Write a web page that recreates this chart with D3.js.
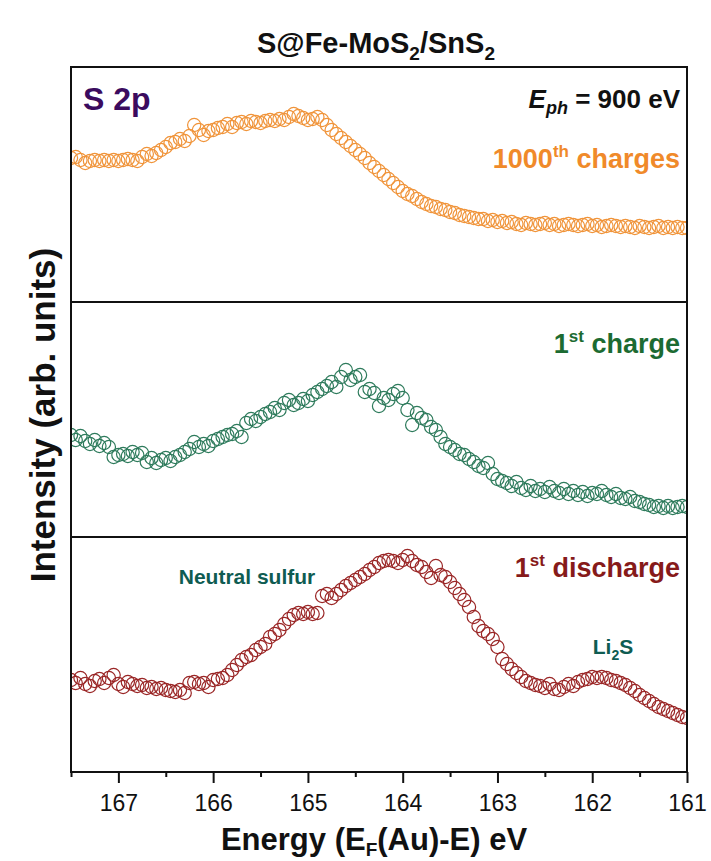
<!DOCTYPE html>
<html>
<head>
<meta charset="utf-8">
<script src="https://cdn.jsdelivr.net/npm/d3@7"></script>
<style>
  html, body { margin: 0; padding: 0; background: #ffffff; }
  svg { display: block; font-family: "Liberation Sans", Arial, sans-serif; }
</style>
</head>
<body>
<svg id="chart" width="711" height="861"></svg>
<script>
// ---------------- DATA ----------------
const energies = [
167.50,167.45,167.40,167.35,167.30,167.25,167.20,167.15,167.10,167.05,
167.00,166.95,166.90,166.85,166.80,166.75,166.70,166.65,166.60,166.55,
166.50,166.45,166.40,166.35,166.30,166.25,166.20,166.15,166.10,166.05,
166.00,165.95,165.90,165.85,165.80,165.75,165.70,165.65,165.60,165.55,
165.50,165.45,165.40,165.35,165.30,165.25,165.20,165.15,165.10,165.05,
165.00,164.95,164.90,164.85,164.80,164.75,164.70,164.65,164.60,164.55,
164.50,164.45,164.40,164.35,164.30,164.25,164.20,164.15,164.10,164.05,
164.00,163.95,163.90,163.85,163.80,163.75,163.70,163.65,163.60,163.55,
163.50,163.45,163.40,163.35,163.30,163.25,163.20,163.15,163.10,163.05,
163.00,162.95,162.90,162.85,162.80,162.75,162.70,162.65,162.60,162.55,
162.50,162.45,162.40,162.35,162.30,162.25,162.20,162.15,162.10,162.05,
162.00,161.95,161.90,161.85,161.80,161.75,161.70,161.65,161.60,161.55,
161.50,161.45,161.40,161.35,161.30,161.25,161.20,161.15,161.10,161.05,
161.00];

// 1000th charges (orange)
const charge1000 = [
144,145,142,139,141,142,141,142,141,142,
141,142,143,142,141,145,148,146,149,152,
155,159,160,163,161,166,177,172,167,171,
172,174,175,178,175,179,180,178,181,180,
179,181,182,181,183,182,185,188,186,184,
182,183,185,182,177,172,168,164,160,156,
152,148,144,139,135,131,127,123,119,115,
111,108,106,103,100,98,96,95,93,92,
90,89,87,86,85,84,83,83,81,82,
80,81,79,80,78,77,79,78,77,78,
79,77,78,76,77,78,77,76,77,78,
76,77,75,76,77,76,75,76,75,74,
76,75,74,75,76,74,75,74,75,74,
74];

// 1st charge (green)
const charge1st = [
102,97,101,96,93,97,91,94,90,80,
82,83,81,85,82,84,75,79,74,77,
79,76,80,82,85,88,95,90,93,91,
96,98,100,102,103,106,100,114,118,116,
120,123,125,129,127,134,137,132,134,138,
136,142,145,148,151,155,150,160,167,157,
160,162,145,148,144,131,139,137,143,146,
139,127,112,124,119,117,110,107,100,93,
90,87,83,82,78,75,71,69,74,63,
58,56,54,51,55,49,47,51,46,48,
45,50,46,44,48,43,46,42,45,41,
44,43,46,42,40,43,39,38,40,36,
35,33,32,30,31,29,31,29,30,31,
30];

// 1st discharge (dark red)
const discharge1st = [
92,89,94,88,86,91,93,89,94,97,
88,85,90,88,86,87,84,85,83,84,
82,81,80,82,79,89,90,88,89,85,
92,93,94,97,102,107,112,115,117,122,
125,128,135,138,142,148,153,157,159,158,
160,158,159,176,178,174,178,182,186,189,
192,195,198,202,205,209,211,212,211,209,
212,216,211,207,205,200,194,206,197,195,
190,184,178,172,165,155,146,141,138,133,
125,113,108,103,99,95,91,89,87,86,
84,88,83,82,85,88,86,90,92,93,
95,94,95,94,92,91,89,87,84,81,
77,74,71,68,65,63,61,59,57,55,
54];

const xTickValues = [167, 166, 165, 164, 163, 162, 161];
const xMinorTickValues = [167.5, 166.5, 165.5, 164.5, 163.5, 162.5, 161.5];
const xDomain = [167.5, 161];
const yDomain = [0, 235];

// ---------------- LAYOUT ----------------
const svg = d3.select("#chart");
const W = 711, H = 861;
const left = 71, right = 687;
const panelTops = [67, 302, 537];
const panelH = 235;
const bottom = panelTops[2] + panelH;

svg.append("rect").attr("width", W).attr("height", H).attr("fill", "#ffffff");

const x = d3.scaleLinear().domain(xDomain).range([left, right]);

const panels = [
  { data: charge1000, color: "#f0943a" },
  { data: charge1st, color: "#2e7b5c" },
  { data: discharge1st, color: "#9a2626" }
];

const defs = svg.append("defs");
defs.append("clipPath").attr("id", "clipAll")
  .append("rect").attr("x", left).attr("y", panelTops[0])
  .attr("width", right - left).attr("height", bottom - panelTops[0]);

panels.forEach((p, k) => {
  const top = panelTops[k];
  const y = d3.scaleLinear().domain(yDomain).range([top + panelH, top]);
  const g = svg.append("g").attr("clip-path", "url(#clipAll)");
  g.selectAll("circle")
    .data(energies.map((e, i) => [e, p.data[i]]))
    .join("circle")
    .attr("cx", d => x(d[0]))
    .attr("cy", d => y(d[1]))
    .attr("r", 6.6)
    .attr("fill", "none")
    .attr("stroke", p.color)
    .attr("stroke-width", 1.2);
});

// frame & separators
svg.append("rect")
  .attr("x", left).attr("y", panelTops[0])
  .attr("width", right - left).attr("height", bottom - panelTops[0])
  .attr("fill", "none").attr("stroke", "#111").attr("stroke-width", 2);
[panelTops[1], panelTops[2]].forEach(yy => {
  svg.append("line").attr("x1", left).attr("x2", right)
    .attr("y1", yy).attr("y2", yy)
    .attr("stroke", "#111").attr("stroke-width", 2);
});

// x axis
const xAxis = d3.axisBottom(x).tickValues(xTickValues).tickSize(11).tickPadding(12)
  .tickFormat(d3.format("d"));
const gx = svg.append("g").attr("transform", `translate(0,${bottom})`).call(xAxis);
gx.select(".domain").remove();
gx.selectAll(".tick line").attr("stroke", "#111").attr("stroke-width", 2);
gx.selectAll(".tick text").attr("font-size", 23).attr("fill", "#111")
  .attr("font-family", "'Liberation Sans', Arial, sans-serif");
const xMinor = d3.axisBottom(x).tickValues(xMinorTickValues).tickSize(5).tickFormat("");
const gxm = svg.append("g").attr("transform", `translate(0,${bottom})`).call(xMinor);
gxm.select(".domain").remove();
gxm.selectAll(".tick line").attr("stroke", "#111").attr("stroke-width", 2);

// title
const title = svg.append("text").attr("x", 376).attr("y", 53)
  .attr("text-anchor", "middle").attr("font-size", 29).attr("font-weight", "bold").attr("fill", "#111");
title.append("tspan").text("S@Fe-MoS");
title.append("tspan").attr("font-size", 19).attr("dy", 7).text("2");
title.append("tspan").attr("dy", -7).text("/SnS");
title.append("tspan").attr("font-size", 19).attr("dy", 7).text("2");

// S 2p
svg.append("text").attr("x", 83).attr("y", 110)
  .attr("font-size", 32).attr("font-weight", "bold").attr("fill", "#3b0b5e").text("S 2p");

// E_ph = 900 eV
const eph = svg.append("text").attr("x", 680).attr("y", 108)
  .attr("text-anchor", "end").attr("font-size", 26).attr("font-weight", "bold").attr("fill", "#111");
eph.append("tspan").attr("font-style", "italic").text("E");
eph.append("tspan").attr("font-style", "italic").attr("font-size", 18).attr("dy", 6).text("ph");
eph.append("tspan").attr("dy", -6).text(" = 900 eV");

// series labels
function supLabel(txt1, sup, txt2, xx, yy, color) {
  const t = svg.append("text").attr("x", xx).attr("y", yy)
    .attr("text-anchor", "end").attr("font-size", 27).attr("font-weight", "bold").attr("fill", color);
  t.append("tspan").text(txt1);
  t.append("tspan").attr("font-size", 17).attr("dy", -11).text(sup);
  t.append("tspan").attr("dy", 11).text(txt2);
}
supLabel("1000", "th", " charges", 680, 168, "#f08a2a");
supLabel("1", "st", " charge", 680, 353, "#1c6b32");
supLabel("1", "st", " discharge", 680, 577, "#861a1a");

// annotations
svg.append("text").attr("x", 247).attr("y", 584).attr("text-anchor", "middle")
  .attr("font-size", 21).attr("font-weight", "bold").attr("fill", "#0f5c52").text("Neutral sulfur");
const li = svg.append("text").attr("x", 613).attr("y", 654).attr("text-anchor", "middle")
  .attr("font-size", 21).attr("font-weight", "bold").attr("fill", "#0f5c52");
li.append("tspan").text("Li");
li.append("tspan").attr("font-size", 14).attr("dy", 6).text("2");
li.append("tspan").attr("dy", -6).text("S");

// axis labels
svg.append("text").attr("transform", `translate(55,415) rotate(-90)`)
  .attr("text-anchor", "middle").attr("font-size", 35).attr("font-weight", "bold").attr("fill", "#111")
  .text("Intensity (arb. units)");
const xl = svg.append("text").attr("x", 374).attr("y", 850).attr("text-anchor", "middle")
  .attr("font-size", 31).attr("font-weight", "bold").attr("fill", "#111");
xl.append("tspan").text("Energy (E");
xl.append("tspan").attr("font-size", 19).attr("dy", 6).text("F");
xl.append("tspan").attr("dy", -6).text("(Au)-E) eV");
</script>
</body>
</html>
